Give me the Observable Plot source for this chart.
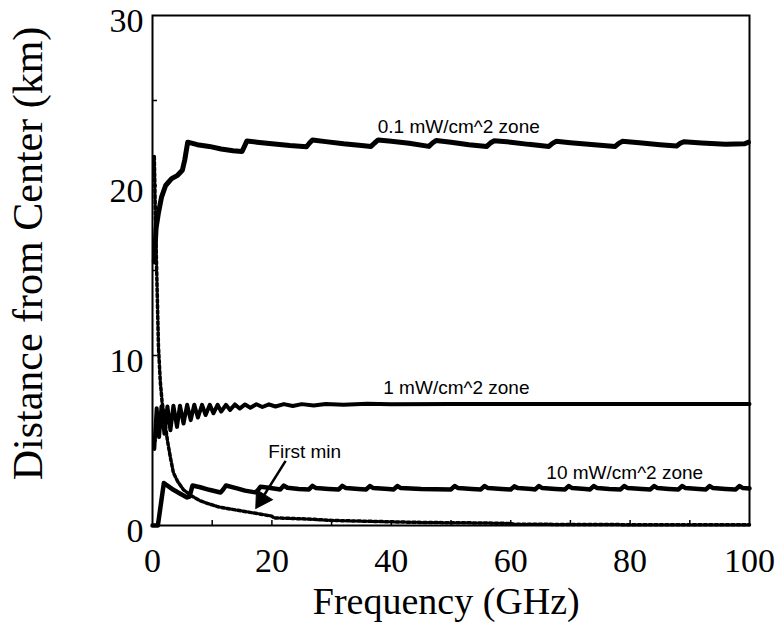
<!DOCTYPE html>
<html>
<head>
<meta charset="utf-8">
<script src="https://cdn.jsdelivr.net/npm/d3@7"></script>
<script src="https://cdn.jsdelivr.net/npm/@observablehq/plot@0.6"></script>
<style>
  html, body { margin: 0; padding: 0; background: #fff; }
  svg { display: block; }
</style>
</head>
<body>
<div id="chart"></div>
<script>
// ---- data (frequency in GHz, distance in km) ----
const freq01 = [0.3, 0.6, 1.0, 1.5, 2.2, 3.2, 4.2, 5.0, 5.4, 5.9, 7.5, 9.5, 11.5, 13.5, 15.0, 15.4, 15.8, 17.5, 20, 23, 25.8, 26.3, 26.8, 29, 32, 35, 36.6, 37.2, 37.8, 40, 43, 46.3, 46.9, 47.5, 50, 53, 56.0, 56.6, 57.2, 60, 63, 66.4, 67.0, 67.6, 70, 74, 77.5, 78.1, 78.7, 82, 85, 87.8, 88.4, 89.0, 92, 96, 99.2, 99.8];
const dist01 = [15.5, 17.5, 18.4, 19.3, 20.0, 20.4, 20.6, 20.9, 21.5, 22.55, 22.4, 22.3, 22.15, 22.05, 22.0, 22.3, 22.62, 22.55, 22.45, 22.35, 22.28, 22.5, 22.68, 22.58, 22.45, 22.35, 22.3, 22.5, 22.68, 22.6, 22.48, 22.3, 22.5, 22.65, 22.55, 22.4, 22.3, 22.5, 22.63, 22.55, 22.42, 22.3, 22.48, 22.6, 22.52, 22.4, 22.3, 22.48, 22.6, 22.5, 22.4, 22.32, 22.48, 22.58, 22.5, 22.42, 22.45, 22.55];

const freq1 = [0.3, 0.7, 1.1, 1.5, 2.0, 2.5, 3.0, 3.5, 4.1, 4.6, 5.2, 5.8, 6.4, 7.0, 7.6, 8.3, 8.9, 9.6, 10.2, 10.9, 11.5, 12.3, 13.0, 13.8, 14.6, 15.5, 16.4, 17.4, 18.4, 19.5, 20.6, 22, 23.5, 25, 27, 29, 32, 36, 40, 50, 60, 70, 80, 90, 100];
const dist1 = [4.5, 6.9, 5.2, 7.0, 5.4, 7.0, 5.6, 7.05, 5.8, 7.05, 6.0, 7.1, 6.2, 7.1, 6.35, 7.1, 6.5, 7.1, 6.6, 7.1, 6.7, 7.1, 6.8, 7.12, 6.88, 7.12, 6.93, 7.13, 6.97, 7.13, 7.0, 7.14, 7.03, 7.14, 7.06, 7.15, 7.1, 7.16, 7.13, 7.15, 7.14, 7.15, 7.15, 7.15, 7.15];

const freq10 = [0, 0.9, 1.9, 2.5, 3.5, 4.5, 5.8, 6.2, 6.7, 8, 9.5, 11.4, 11.8, 12.3, 14, 15.5, 17.2, 17.6, 18.1, 19.5, 21.4, 22.0, 22.6, 24.5, 26.2, 26.8, 27.4, 29.5, 31.2, 31.8, 32.4, 34.5, 35.8, 36.4, 37.0, 39.5, 40.4, 41.0, 41.6, 45, 50.0, 50.6, 51.2, 53.5, 55.0, 55.6, 56.2, 58.5, 60.0, 60.6, 61.2, 63.5, 64.1, 64.7, 65.3, 67.5, 69.1, 69.7, 70.3, 72.5, 73.3, 73.9, 74.5, 76.5, 78.4, 79.0, 79.6, 82, 83.4, 84.0, 84.6, 86.5, 88.1, 88.7, 89.3, 91.5, 92.7, 93.3, 93.9, 96, 97.7, 98.3, 98.9, 100];
const dist10 = [0, 0, 2.5, 2.35, 2.1, 1.9, 1.65, 1.7, 2.35, 2.25, 2.1, 1.94, 2.1, 2.35, 2.2, 2.05, 1.95, 2.05, 2.28, 2.22, 2.12, 2.35, 2.22, 2.15, 2.12, 2.33, 2.2, 2.15, 2.12, 2.33, 2.2, 2.15, 2.12, 2.32, 2.2, 2.15, 2.12, 2.32, 2.2, 2.15, 2.12, 2.32, 2.2, 2.15, 2.12, 2.32, 2.2, 2.15, 2.12, 2.3, 2.2, 2.15, 2.12, 2.32, 2.2, 2.15, 2.12, 2.32, 2.2, 2.15, 2.12, 2.32, 2.2, 2.15, 2.12, 2.32, 2.2, 2.15, 2.12, 2.32, 2.2, 2.15, 2.12, 2.32, 2.2, 2.15, 2.12, 2.32, 2.2, 2.15, 2.12, 2.32, 2.2, 2.18];

const freqMin = [0.3, 0.5, 0.8, 1.0, 1.3, 1.6, 2.0, 2.5, 3.0, 3.5, 4.2, 5.2, 6.5, 8, 9.2, 11, 12.5, 15, 17.6, 20, 20.3, 23, 26, 30, 37, 45, 55, 60, 60.5, 70, 80, 90, 100];
const distMin = [21.7, 18, 13.5, 10.5, 8.5, 7.3, 6.3, 5.0, 4.0, 3.1, 2.6, 2.1, 1.75, 1.45, 1.3, 1.1, 1.0, 0.85, 0.7, 0.55, 0.45, 0.42, 0.38, 0.3, 0.24, 0.18, 0.15, 0.12, 0.08, 0.06, 0.05, 0.05, 0.05];

const xTickLabels = [0, 20, 40, 60, 80, 100];
const yTickLabels = [0, 10, 20, 30];
const xMinorTicks = [10, 20, 30, 40, 50, 60, 70, 80, 90];
const yMinorTicks = [5, 10, 15, 20, 25];

const zoneLabels = ["0.1 mW/cm^2 zone", "1 mW/cm^2 zone", "10 mW/cm^2 zone", "First min"];
const zoneLabelX = [51.3, 50.9, 79.1, 25.5];
const zoneLabelY = [23.06, 7.76, 2.75, 4.0];

const xTitle = "Frequency (GHz)";
const yTitle = "Distance from Center (km)";
const xTitlePos = [49.2];
const yTitlePos = [-20.8, 16.0];

const arrowFrom = [22.3, 3.8];
const arrowTo = [17.3, 1.0];

// ---- scales (shared with the plot) ----
const X_RANGE = [152, 749], Y_RANGE = [525, 15];
const sx = Plot.scale({x: {domain: [0, 100], range: X_RANGE}});
const sy = Plot.scale({y: {domain: [0, 30], range: Y_RANGE}});

// arrow head geometry derived from the scales
const px0 = [sx.apply(arrowFrom[0]), sy.apply(arrowFrom[1])];
const px1 = [sx.apply(arrowTo[0]), sy.apply(arrowTo[1])];
const len = Math.hypot(px1[0] - px0[0], px1[1] - px0[1]);
const ux = (px1[0] - px0[0]) / len, uy = (px1[1] - px0[1]) / len;
const headR = 7;
const tipDist = 2 * Math.sqrt(Math.PI * headR * headR / (3 * Math.sqrt(3)));
const headCenter = {x: sx.invert(px1[0] - ux * tipDist), y: sy.invert(px1[1] - uy * tipDist)};
const headRotate = Math.atan2(uy, ux) * 180 / Math.PI + 90;

// ---- build tables ----
const toRows = (xs, ys) => xs.map((x, i) => ({x, y: ys[i]}));
const s01 = toRows(freq01, dist01);
const s1 = toRows(freq1, dist1);
const s10 = toRows(freq10, dist10);
const sMin = toRows(freqMin, distMin);
const labels = zoneLabels.map((t, i) => ({t, x: zoneLabelX[i], y: zoneLabelY[i]}));

const serif = "'Liberation Serif', 'Times New Roman', Times, serif";
const sans = "'Liberation Sans', Arial, Helvetica, sans-serif";

const chart = Plot.plot({
  width: 781,
  height: 627,
  marginLeft: 152,
  marginRight: 32,
  marginTop: 15,
  marginBottom: 102,
  style: {fontFamily: serif, background: "white", color: "black", overflow: "visible"},
  x: {domain: [0, 100], range: X_RANGE},
  y: {domain: [0, 30], range: Y_RANGE},
  marks: [
    Plot.axisX({ticks: xMinorTicks, tickSize: -5, tickFormat: () => "", label: null, strokeWidth: 1.5}),
    Plot.axisY({ticks: yMinorTicks, tickSize: -5, tickFormat: () => "", label: null, strokeWidth: 1.5}),
    Plot.axisX({ticks: xTickLabels, tickSize: 0, tickPadding: 22, fontSize: 34, label: null, fontFamily: serif}),
    Plot.axisY({ticks: yTickLabels, tickSize: 0, tickPadding: 9, fontSize: 34, label: null, dy: 6, fontFamily: serif}),
    Plot.text([xTitle], {x: () => xTitlePos[0], frameAnchor: "bottom", dy: 76, fontSize: 38, fontFamily: serif, lineAnchor: "middle", textAnchor: "middle"}),
    Plot.text([yTitle], {x: () => yTitlePos[0], y: () => yTitlePos[1], rotate: -90, fontSize: 42, fontFamily: serif, lineAnchor: "middle", textAnchor: "middle"}),
    Plot.line(sMin, {x: "x", y: "y", stroke: "black", strokeWidth: 3.5, strokeDasharray: "3,2.5"}),
    Plot.line(s10, {x: "x", y: "y", stroke: "black", strokeWidth: 4.5, strokeLinejoin: "round"}),
    Plot.line(s1, {x: "x", y: "y", stroke: "black", strokeWidth: 4, strokeLinejoin: "round"}),
    Plot.line(s01, {x: "x", y: "y", stroke: "black", strokeWidth: 5, strokeLinejoin: "round"}),
    Plot.link([{x1: arrowFrom[0], y1: arrowFrom[1], x2: headCenter.x, y2: headCenter.y}], {x1: "x1", y1: "y1", x2: "x2", y2: "y2", stroke: "black", strokeWidth: 2.5}),
    Plot.dot([headCenter], {x: "x", y: "y", symbol: "triangle", r: headR, fill: "black", stroke: "black", strokeWidth: 1, rotate: headRotate}),
    Plot.text(labels, {x: "x", y: "y", text: "t", fontSize: 19, fontFamily: sans, lineAnchor: "bottom", textAnchor: "middle"}),
    Plot.frame({stroke: "black", strokeWidth: 2})
  ]
});
document.getElementById("chart").appendChild(chart);
</script>
</body>
</html>
